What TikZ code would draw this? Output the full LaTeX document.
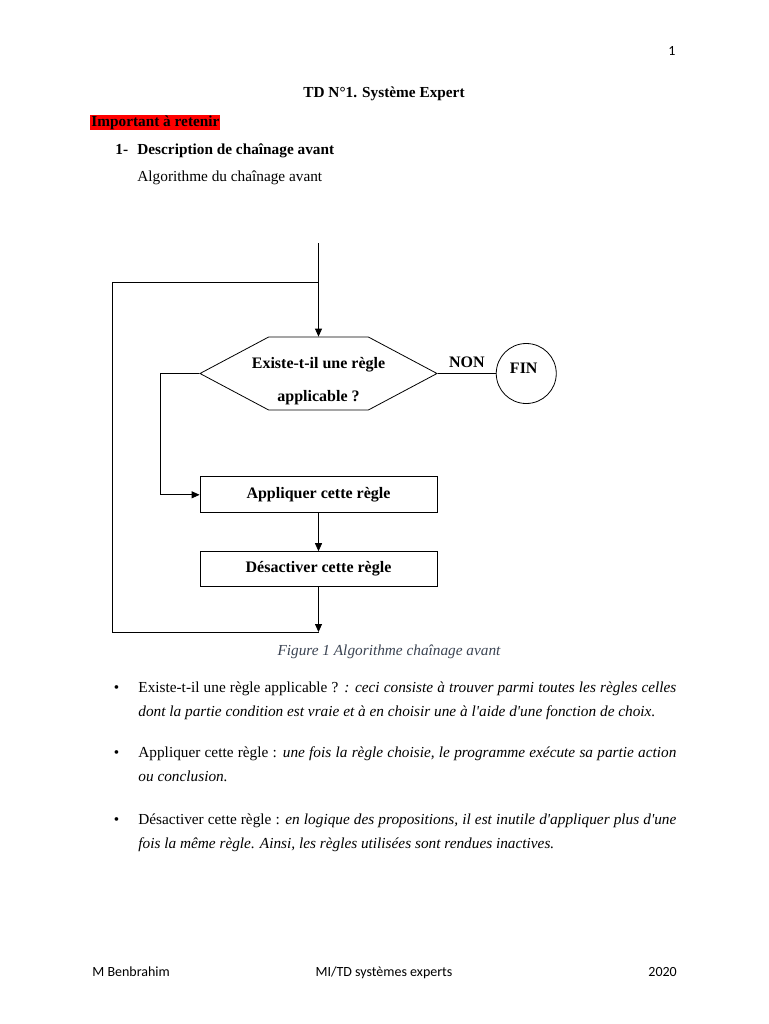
\documentclass[tikz,border=0pt]{standalone}
\usepackage{fontspec}
\setmainfont{Liberation Serif}
\newfontfamily\footfont{Carlito}
\usepackage{xcolor}
\usetikzlibrary{positioning,shapes.symbols,arrows.meta}

\definecolor{captiongray}{HTML}{3B4453}
\newcommand\txtsize{\fontsize{15.3}{18}\selectfont}
\newcommand\flowsize{\fontsize{16}{33}\selectfont\bfseries}
\newcommand\footsize{\footfont\fontsize{14}{17}\selectfont}

\begin{document}
\begin{tikzpicture}[x=1pt,y=-1pt,line width=0.8pt,
    txt/.style={anchor=base west,inner sep=0pt,font=\txtsize},
    foot/.style={anchor=base west,inner sep=0pt,font=\footsize},
    flowbox/.style={draw,minimum width=237pt,inner sep=0pt,font=\flowsize},
    arr/.style={-{Triangle[length=8pt,width=7pt]}}]
    \useasboundingbox[fill=white] (0,0) rectangle (768,1024);

    % page head
    \node[foot,anchor=base] (pnum) at (672,56) {1};
    \node[txt,anchor=base,font=\txtsize\bfseries] (title) at (384,98) {TD N°1. Système Expert};
    \node[txt,fill=red,inner xsep=1pt,text height=12pt,text depth=3.5pt,font=\txtsize\bfseries] (important) at (90,127) {Important à retenir};
    \node[txt,font=\txtsize\bfseries] (num) at (115,155) {1-};
    \node[txt,font=\txtsize\bfseries] (section) at (137,155) {Description de chaînage avant};
    \node[txt] (algo) at (137,182) {Algorithme du chaînage avant};

    % flowchart
    \node[flowbox,signal,signal to=west and east,signal pointer angle=56,minimum height=73pt] (hex) at (318.5,373.5) {};
    \node[inner sep=0pt,align=center,font=\flowsize] (hextxt) at ([yshift=-8pt]hex.center) {Existe-t-il une règle\\applicable ?};
    \node[flowbox,minimum height=36pt,below=66pt of hex] (appl) {Appliquer cette règle};
    \node[flowbox,minimum height=35pt,below=38pt of appl] (desa) {Désactiver cette règle};
    \node[draw,circle,minimum size=60pt,inner sep=0pt,font=\flowsize,right=58pt of hex] (fin) {\raisebox{11pt}{FIN\hspace{5pt}}};

    \coordinate (start) at (318.5,243);
    \coordinate (join) at (318.5,282);
    \coordinate (bot) at (318.5,632);
    \coordinate (loopl) at (112,632);

    \draw[arr] (start) -- (hex.north);
    \draw (hex.east) -- (fin.west) node[midway,above=5pt,inner sep=0pt,font=\flowsize] (non) {NON};
    \draw[arr] (hex.west) -- ++(-39,0) |- (appl.west);
    \draw[arr] (appl) -- (desa);
    \draw[arr] (desa) -- (bot);
    \draw (bot) -- (loopl) |- (join);

    \node[txt,anchor=base,font=\txtsize\itshape,text=captiongray] (caption) at (389,655) {Figure 1 Algorithme chaînage avant};

    % bullet list
    \foreach \y in {692,757,824}
      \node[txt,anchor=base] at (116.5,\y) {\textbullet};
    \node[txt] (l1) at (138,692) {\makebox[538pt][s]{Existe-t-il une règle applicable ? \textit{: ceci consiste à trouver parmi toutes les règles celles}}};
    \node[txt,font=\txtsize\itshape] (l2) at (138,716) {dont la partie condition est vraie et à en choisir une à l\textquotesingle aide d\textquotesingle une fonction de choix.};
    \node[txt] (l3) at (138,757) {\makebox[538pt][s]{Appliquer cette règle : \textit{une fois la règle choisie, le programme exécute sa partie action}}};
    \node[txt,font=\txtsize\itshape] (l4) at (138,781) {ou conclusion.};
    \node[txt] (l5) at (138,824) {\makebox[538pt][s]{Désactiver cette règle : \textit{en logique des propositions, il est inutile d\textquotesingle appliquer plus d\textquotesingle une}}};
    \node[txt,font=\txtsize\itshape] (l6) at (138,848) {fois la même règle. Ainsi, les règles utilisées sont rendues inactives.};

    % footer
    \node[foot] (author) at (92,976) {M Benbrahim};
    \node[foot,anchor=base] (course) at (384,976) {MI/TD systèmes experts};
    \node[foot] (year) at (648,976) {2020};
\end{tikzpicture}
\end{document}
